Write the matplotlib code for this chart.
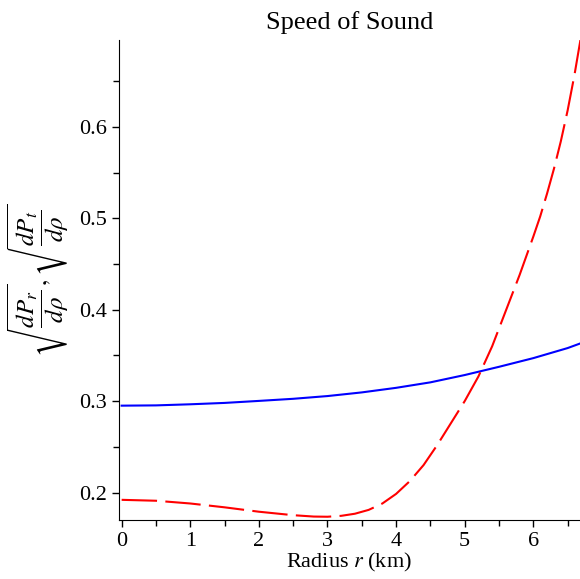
import numpy as np
import matplotlib
matplotlib.use('Agg')
import matplotlib.pyplot as plt

plt.rcParams['font.family'] = 'Liberation Serif'
plt.rcParams['mathtext.fontset'] = 'stix'

# values
r_red = [0, 0.5, 1.0, 1.5, 2.0, 2.5, 2.8, 3.0, 3.2, 3.4, 3.6, 3.8, 4.0,
         4.2, 4.4, 4.6, 4.8, 5.0, 5.2, 5.4, 5.6, 5.8, 6.0, 6.1, 6.2,
         6.3, 6.4, 6.5, 6.6, 6.7]
vs_r = [0.1920, 0.1910, 0.1880, 0.1838, 0.1790, 0.1752, 0.1737, 0.1735,
        0.1745, 0.1768, 0.1810, 0.1880, 0.1985, 0.2125, 0.2300, 0.2520,
        0.2760, 0.3000, 0.3270, 0.3600, 0.3990, 0.4380, 0.4800, 0.5020,
        0.5270, 0.5540, 0.5840, 0.6180, 0.6570, 0.7010]

r_blue = [0, 0.5, 1.0, 1.5, 2.0, 2.5, 3.0, 3.5, 4.0, 4.5, 5.0, 5.5, 6.0, 6.5, 6.7]
vs_t = [0.2950, 0.2953, 0.2965, 0.2980, 0.3002, 0.3025, 0.3055, 0.3095,
        0.3145, 0.3205, 0.3285, 0.3375, 0.3470, 0.3580, 0.3635]

fig = plt.figure(figsize=(5.8, 5.79), dpi=100)
ax = fig.add_axes([0.205, 0.102, 0.795, 0.829])

ax.plot(r_blue, vs_t, color='#0000ff', lw=1.5)
ax.plot(r_red, vs_r, color='#ff0000', lw=1.5, dashes=(17, 4))

ax.set_xlim(-0.04, 6.68)
ax.set_ylim(0.170, 0.695)
ax.set_xticks([0, 1, 2, 3, 4, 5, 6])
ax.set_xticks(np.arange(0.5, 6.6, 1.0), minor=True)
ax.set_yticks([0.2, 0.3, 0.4, 0.5, 0.6])
ax.set_yticks([0.25, 0.35, 0.45, 0.55, 0.65], minor=True)
ax.set_yticklabels(['0.2', '0.3', '0.4', '0.5', '0.6'])

for s in ['top', 'right']:
    ax.spines[s].set_visible(False)
ax.tick_params(which='major', direction='out', length=5, width=1, labelsize=16)
ax.tick_params(which='minor', direction='out', length=4, width=1)

ax.set_title('Speed of Sound', fontsize=19, pad=8)
ax.set_xlabel('Radius $r$ (km)', fontsize=16, labelpad=0)
ax.set_ylabel(r'$\sqrt{\dfrac{dP_r}{d\rho}}, \sqrt{\dfrac{dP_t}{d\rho}}$',
              fontsize=18, labelpad=6)

fig.savefig('out.png', dpi=100)
